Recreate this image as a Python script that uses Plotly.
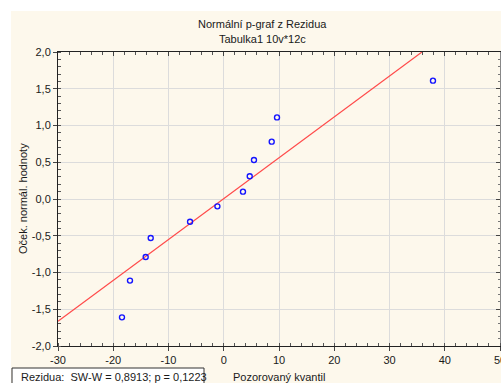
import plotly.graph_objects as go

# Observed residual quantiles and their expected normal values
observed = [-18.42, -16.97, -14.13, -13.22, -6.10, -1.15, 3.48, 4.70, 5.47, 8.68, 9.64, 37.87]
expected = [-1.61, -1.11, -0.79, -0.53, -0.31, -0.10, 0.10, 0.31, 0.53, 0.78, 1.11, 1.61]

# Reference line y = intercept + slope * x
line_intercept = 0.005
line_slope = 0.0556

x_range = [-30, 50]
y_range = [-2.0, 2.0]

x_ticks = [-30, -20, -10, 0, 10, 20, 30, 40, 50]
x_tick_labels = ["-30", "-20", "-10", "0", "10", "20", "30", "40", "50"]
y_ticks = [-2.0, -1.5, -1.0, -0.5, 0.0, 0.5, 1.0, 1.5, 2.0]
y_tick_labels = ["-2,0", "-1,5", "-1,0", "-0,5", "0,0", "0,5", "1,0", "1,5", "2,0"]

title_lines = ["Normální p-graf z Rezidua", "Tabulka1 10v*12c"]
x_title = "Pozorovaný kvantil"
y_title = "Oček. normál. hodnoty"
sw_text = "Rezidua:\u00a0\u00a0SW-W = 0,8913; p = 0,1223"

W, H = 501, 383
L, R, T, B = 58, 1, 52, 37
PW, PH = W - L - R, H - T - B


def px(xp):
    return (xp - L) / PW


def py(yp):
    return (H - B - yp) / PH


FONT = "Liberation Sans, Arial, sans-serif"
TXT = "#1a1a1a"
CREAM = "#FDF8EC"

line_x = list(x_range)
line_y = [line_intercept + line_slope * v for v in line_x]

fig = go.Figure()
fig.add_trace(go.Scatter(
    x=line_x, y=line_y, mode="lines",
    line=dict(color="#FF4A4A", width=1.2),
    hoverinfo="skip", showlegend=False,
))
fig.add_trace(go.Scatter(
    x=observed, y=expected, mode="markers",
    marker=dict(symbol="circle-open", size=5, color="#1414FF",
                line=dict(width=1.4, color="#1414FF")),
    showlegend=False,
))

axis_common = dict(
    showgrid=True, gridcolor="#DCDCDC", gridwidth=1,
    zeroline=False, showline=True, linecolor="#222222", linewidth=1,
    tickfont=dict(family=FONT, size=11, color=TXT),
    ticks="outside", ticklen=4, tickcolor="#444444",
    ticklabeloverflow="allow", automargin=False,
)

fig.update_layout(
    width=W, height=H,
    margin=dict(l=L, r=R, t=T, b=B, pad=0, autoexpand=False),
    paper_bgcolor="white", plot_bgcolor="white",
    font=dict(family=FONT, size=11, color=TXT),
    xaxis=dict(range=x_range, tickmode="array", tickvals=x_ticks, ticktext=x_tick_labels,
               minor=dict(dtick=2, tick0=0, ticks="inside", ticklen=3, tickcolor="#555555", showgrid=False),
               **axis_common),
    yaxis=dict(range=y_range, tickmode="array", tickvals=y_ticks, ticktext=y_tick_labels,
               minor=dict(dtick=0.1, tick0=0, ticks="inside", ticklen=3, tickcolor="#555555", showgrid=False),
               **axis_common),
    xaxis2=dict(overlaying="x", side="top", range=x_range, dtick=10, tick0=0,
                showgrid=False, zeroline=False, showticklabels=False, automargin=False,
                showline=True, linecolor="#222222", linewidth=1,
                ticks="inside", ticklen=4, tickcolor="#444444",
                minor=dict(dtick=2, ticks="inside", ticklen=3, tickcolor="#555555")),
    yaxis2=dict(overlaying="y", side="right", range=y_range, dtick=0.5, tick0=0,
                showgrid=False, zeroline=False, showticklabels=False, automargin=False,
                showline=True, linecolor="#888888", linewidth=2,
                ticks="inside", ticklen=4, tickcolor="#444444",
                minor=dict(dtick=0.1, ticks="inside", ticklen=2, tickcolor="#777777")),
)

# invisible carrier trace so the mirrored top/right axes are drawn
fig.add_trace(go.Scatter(x=[None], y=[None], xaxis="x2", yaxis="y2",
                         showlegend=False, hoverinfo="skip"))

shapes = [
    # cream chart background
    dict(type="rect", xref="paper", yref="paper", layer="below",
         x0=px(11), x1=px(W + 20), y0=py(11), y1=py(H + 20),
         fillcolor=CREAM, line=dict(width=0)),
    # statistics box
    dict(type="rect", xref="paper", yref="paper",
         x0=px(12), x1=px(204), y0=py(368), y1=py(392),
         fillcolor="white", line=dict(color="#333333", width=1)),
]
fig.update_layout(shapes=shapes)

annotations = [
    dict(text=title_lines[0], x=px(262), y=py(24)),
    dict(text=title_lines[1], x=px(262), y=py(39)),
    dict(text=x_title, x=px(279), y=py(377)),
    dict(text=y_title, x=px(23), y=py(199), textangle=-90),
    dict(text=sw_text, x=px(19), y=py(377), xanchor="left"),
]
for a in annotations:
    a.setdefault("xanchor", "center")
    fig.add_annotation(xref="paper", yref="paper", yanchor="middle", showarrow=False,
                       font=dict(family=FONT, size=11, color=TXT), **a)

fig.write_html("out.html")
